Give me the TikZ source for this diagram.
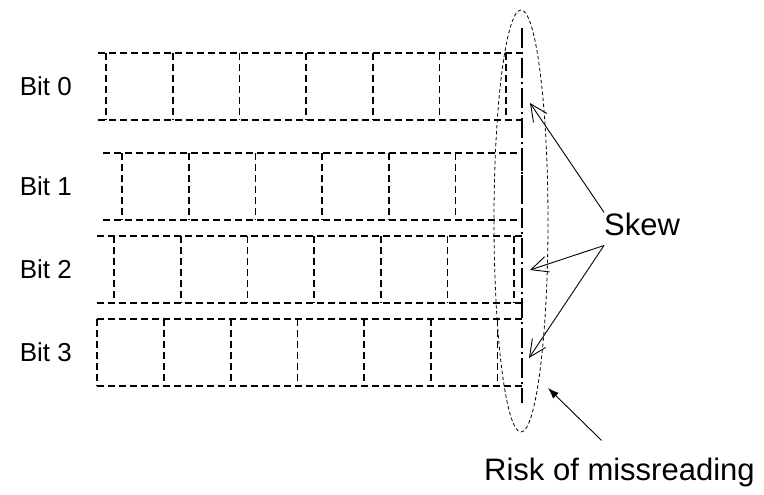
\documentclass[tikz,border=0pt]{standalone}
\usepackage{fontspec}
\setmainfont{Liberation Sans}
\usetikzlibrary{arrows.meta}

\begin{document}
\begin{tikzpicture}[x=1pt, y=-1pt,
        cell/.style={line width=1.8pt, dash pattern=on 7pt off 4pt},
        edge/.style={line width=2.2pt, dash pattern=on 20pt off 4pt on 2pt off 4pt},
        window/.style={line width=0.8pt, dash pattern=on 3.5pt off 2.5pt},
        lbl/.style={font=\fontsize{26}{30}\selectfont, inner sep=0pt},
        note/.style={font=\fontsize{31}{36}\selectfont, inner sep=0pt},
        skewarrow/.style={-{Straight Barb[length=17pt, width=16pt]}, line width=0.9pt},
        riskarrow/.style={-{Latex[length=11pt, width=8pt]}, line width=0.9pt}]

    \useasboundingbox (0,0) rectangle (764,495);

    % Bit lanes (bit / top / bottom / line start / first edge)
    \foreach \b/\t/\u/\s/\e in {0/53/120/98/106, 1/153/220/103/122, 2/236/303/97/114, 3/319/386/97/97.3} {
        \draw[cell] (\s,\t) -- (522,\t);
        \draw[cell] (\s,\u) -- (522,\u);
        \foreach \k in {0,...,6} {
            \draw[cell] (\e+\k*66.7,\t) -- (\e+\k*66.7,\u);
        }
        \node[lbl, anchor=east] (bit\b) at (72,{(\t+\u)/2}) {Bit \b};
    }

    % Sampling edge
    \draw[edge] (522,28) -- (522,403);

    % Uncertainty window round the edge
    \draw[window] (521,221) ellipse [x radius=27pt, y radius=211pt];

    % Labels
    \node[note, anchor=base west] (skew) at (604,235) {Skew};
    \node[note, anchor=base west] (risk) at (484,480) {Risk of missreading};

    % Arrow tips
    \coordinate (tip0) at (530,103);
    \coordinate (tip2) at (530,270);
    \coordinate (tip3) at (529,358);
    \coordinate (tipr) at (548,388);

    \draw[skewarrow] (skew.north west) -- (tip0);
    \draw[skewarrow] ([yshift=-10pt]skew.south west) -- (tip2);
    \draw[skewarrow] ([yshift=-10pt]skew.south west) -- (tip3);
    \draw[riskarrow] ([xshift=-18pt, yshift=17pt]risk.north) -- (tipr);

\end{tikzpicture}
\end{document}
